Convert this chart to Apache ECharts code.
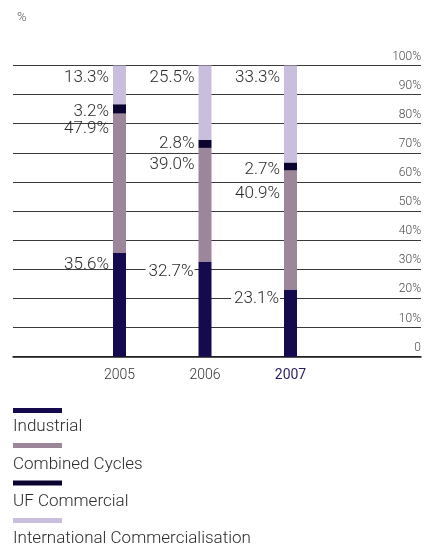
<!DOCTYPE html>
<html>
<head>
<meta charset="utf-8">
<script src="https://cdn.jsdelivr.net/npm/echarts@6/dist/echarts.min.js"></script>
<style>
  html, body { margin: 0; padding: 0; background: #ffffff; }
  #chart { width: 427px; height: 549px; }
</style>
</head>
<body>
<div id="chart"></div>
<script>
// Sales mix by business line, share of total (%)
const years = ['2005', '2006', '2007'];
const industrial = [35.6, 32.7, 23.1];
const combinedCycles = [47.9, 39.0, 40.9];
const ufCommercial = [3.2, 2.8, 2.7];
const internationalComm = [13.3, 25.5, 33.3];
const seriesNames = ['Industrial', 'Combined Cycles', 'UF Commercial', 'International Commercialisation'];
const yTicks = [0, 10, 20, 30, 40, 50, 60, 70, 80, 90, 100];

const colors = ['#150a4e', '#9c8699', '#0b0330', '#c9bedd'];
const FONT = 'Roboto, "Liberation Sans", Arial, sans-serif';

// vertical offset of each value label from the top of its segment
const labelDy = [
  [11.5, 10.5, 9],
  [15.5, 17, 23],
  [8, 4, 7],
  [12.5, 12.5, 12.5]
];
// labels that sit on a grid line get a white backing
const labelBacked = [
  [false, true, true],
  [false, false, false],
  [false, false, false],
  [false, false, false]
];

const values = [industrial, combinedCycles, ufCommercial, internationalComm];

// legend rows: swatch top and caption centre
const legendSwatchTop = [408, 443, 480.5, 518];
const legendTextMid = [427, 464.5, 502, 539];

const chart = echarts.init(document.getElementById('chart'), null, { renderer: 'canvas' });

const gridTop = 65.5;
const gridBottom = 192.3;

const barSeries = values.map((vals, s) => ({
  name: seriesNames[s],
  type: 'bar',
  stack: 'mix',
  xAxisIndex: 1,
  yAxisIndex: 1,
  barWidth: 13,
  itemStyle: { color: colors[s] },
  data: vals.map((v, i) => ({
    value: v,
    label: {
      show: true,
      position: [-4, labelDy[s][i]],
      align: 'right',
      verticalAlign: 'middle',
      formatter: v.toFixed(1) + '%',
      fontFamily: FONT,
      fontWeight: 300,
      fontSize: 17,
      color: '#2b2b2b',
      backgroundColor: labelBacked[s][i] ? '#ffffff' : 'transparent',
      padding: labelBacked[s][i] ? [0, 1, 0, 3] : 0
    }
  })),
  emphasis: { disabled: true },
  animation: false
}));

// one legend block per series so each swatch sits on its own row
const legends = seriesNames.map((n, s) => ({
  left: 13,
  top: legendSwatchTop[s],
  padding: 0,
  itemWidth: 49,
  itemHeight: 5,
  icon: 'rect',
  selectedMode: false,
  data: [n],
  formatter: () => '',
  textStyle: { fontSize: 5, lineHeight: 5, padding: 0 }
}));

// captions under the swatches
const captions = seriesNames.map((n, s) => ({
  type: 'text',
  x: 13,
  y: legendTextMid[s],
  style: {
    text: n,
    fontFamily: FONT,
    fontWeight: 300,
    fontSize: 17,
    fill: '#2b2b2b',
    verticalAlign: 'middle'
  }
}));

const option = {
  animation: false,
  backgroundColor: '#ffffff',
  title: {
    text: '%',
    left: 12,
    top: 6,
    textStyle: { fontFamily: FONT, fontWeight: 300, fontSize: 13, color: '#555555' }
  },
  grid: [
    { left: 13, right: 6, top: gridTop, bottom: gridBottom },
    { left: 76.75, right: 93.75, top: gridTop, bottom: gridBottom }
  ],
  xAxis: [
    {
      gridIndex: 0, type: 'value', min: 0, max: 1,
      axisLine: { show: true, onZero: false, lineStyle: { color: '#1a1a1a', width: 1.5 } },
      axisTick: { show: false }, axisLabel: { show: false }, splitLine: { show: false }
    },
    {
      gridIndex: 1, type: 'category', data: years,
      axisLine: { show: false }, axisTick: { show: false },
      axisLabel: {
        margin: 12,
        fontFamily: FONT,
        fontWeight: 300,
        fontSize: 14,
        color: '#333333',
        formatter: (v) => v === '2007' ? '{hl|' + v + '}' : v,
        rich: { hl: { fontFamily: FONT, fontWeight: 400, fontSize: 14, color: '#2a1f66' } }
      }
    }
  ],
  yAxis: [
    {
      gridIndex: 0, type: 'value', position: 'right', min: 0, max: 100, interval: 10,
      axisLine: { show: false }, axisTick: { show: false },
      splitLine: { show: true, lineStyle: { color: '#3a3a3a', width: 1 } },
      axisLabel: {
        inside: true,
        margin: 0,
        align: 'right',
        verticalAlign: 'bottom',
        padding: [0, 0, 3, 0],
        fontFamily: FONT,
        fontWeight: 300,
        fontSize: 12,
        color: '#4a4a4a',
        formatter: (v) => yTicks.indexOf(v) === 0 ? '0' : v + '%'
      }
    },
    {
      gridIndex: 1, type: 'value', min: 0, max: 100, show: false
    }
  ],
  legend: legends,
  graphic: captions,
  series: barSeries
};

chart.setOption(option);
</script>
</body>
</html>
